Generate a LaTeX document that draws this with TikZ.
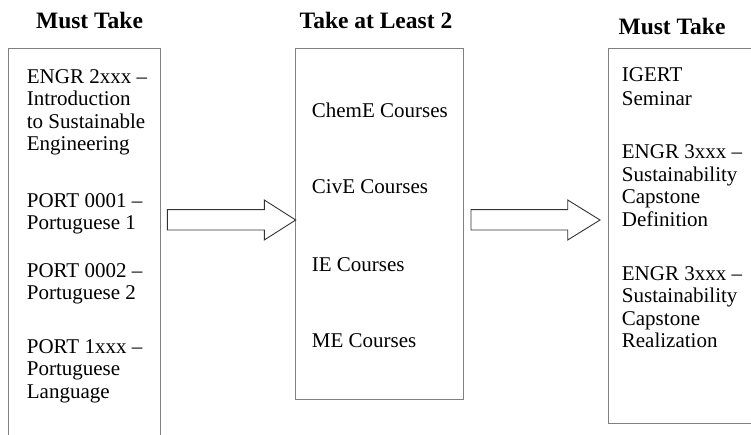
\documentclass[tikz,border=0pt]{standalone}
\usepackage{fontspec}
\setmainfont{Liberation Serif}
\begin{document}
\begin{tikzpicture}[x=1pt,y=-1pt,
  boxline/.style={draw=black!50, line width=1.4pt},
  blockarrow/.style={draw=black!80, line width=0.9pt, line join=miter},
  body/.style={anchor=base west, inner sep=0pt, font=\fontsize{21}{22.5}\selectfont},
  title/.style={anchor=base, inner sep=0pt, font=\fontsize{23.5}{25}\selectfont\bfseries}]
\useasboundingbox (0,0) rectangle (751,435);

% boxes
\draw[boxline] (8.7,437) -- (8.7,48.3) -- (160.3,48.3) -- (160.3,437);
\draw[boxline] (295.7,48.3) rectangle (463.7,399.3);
\draw[boxline] (753,423.3) -- (608.3,423.3) -- (608.3,48.3) -- (753,48.3);

\coordinate (a1s) at (167.3,220);
\coordinate (a1t) at (295.7,220);
\coordinate (a2s) at (471,220);
\coordinate (a2t) at (600,220);

% block arrows
\draw[blockarrow] (a1s) ++(0,-10.3) -- ++(97,0) -- ++(0,-9.7) -- (a1t) -- ++(-31.4,20) -- ++(0,-10) -- ++(-97,0) -- cycle;
\draw[blockarrow] (a2s) ++(0,-10.3) -- ++(96.7,0) -- ++(0,-9.7) -- (a2t) -- ++(-32.3,20) -- ++(0,-10) -- ++(-96.7,0) -- cycle;

% titles
\node[title] (t1) at (89.5,29) {Must Take};
\node[title] (t2) at (376,28.5) {Take at Least 2};
\node[title] (t3) at (672,35) {Must Take};

% left column
\node[body] (l1) at (26.7,83.5) {ENGR 2xxx –};
\node[body] (l2) at (26.7,106) {Introduction};
\node[body] (l3) at (26.7,128.5) {to Sustainable};
\node[body] (l4) at (26.7,151) {Engineering};
\node[body] (l5) at (26.7,207.5) {PORT 0001 –};
\node[body] (l6) at (26.7,230) {Portuguese 1};
\node[body] (l7) at (26.7,277) {PORT 0002 –};
\node[body] (l8) at (26.7,299.5) {Portuguese 2};
\node[body] (l9) at (26.7,353) {PORT 1xxx –};
\node[body] (l10) at (26.7,375.5) {Portuguese};
\node[body] (l11) at (26.7,398) {Language};

% middle column
\node[body] (m1) at (311.7,117.5) {ChemE Courses};
\node[body] (m2) at (311.7,194) {CivE Courses};
\node[body] (m3) at (311.7,271.5) {IE Courses};
\node[body] (m4) at (311.7,347.5) {ME Courses};

% right column
\node[body] (r1) at (621.7,81.5) {IGERT};
\node[body] (r2) at (621.7,105.5) {Seminar};
\node[body] (r3) at (621.7,159) {ENGR 3xxx –};
\node[body] (r4) at (621.7,181.5) {Sustainability};
\node[body] (r5) at (621.7,204) {Capstone};
\node[body] (r6) at (621.7,226.5) {Definition};
\node[body] (r7) at (621.7,280) {ENGR 3xxx –};
\node[body] (r8) at (621.7,302.5) {Sustainability};
\node[body] (r9) at (621.7,325) {Capstone};
\node[body] (r10) at (621.7,347.5) {Realization};
\end{tikzpicture}
\end{document}
